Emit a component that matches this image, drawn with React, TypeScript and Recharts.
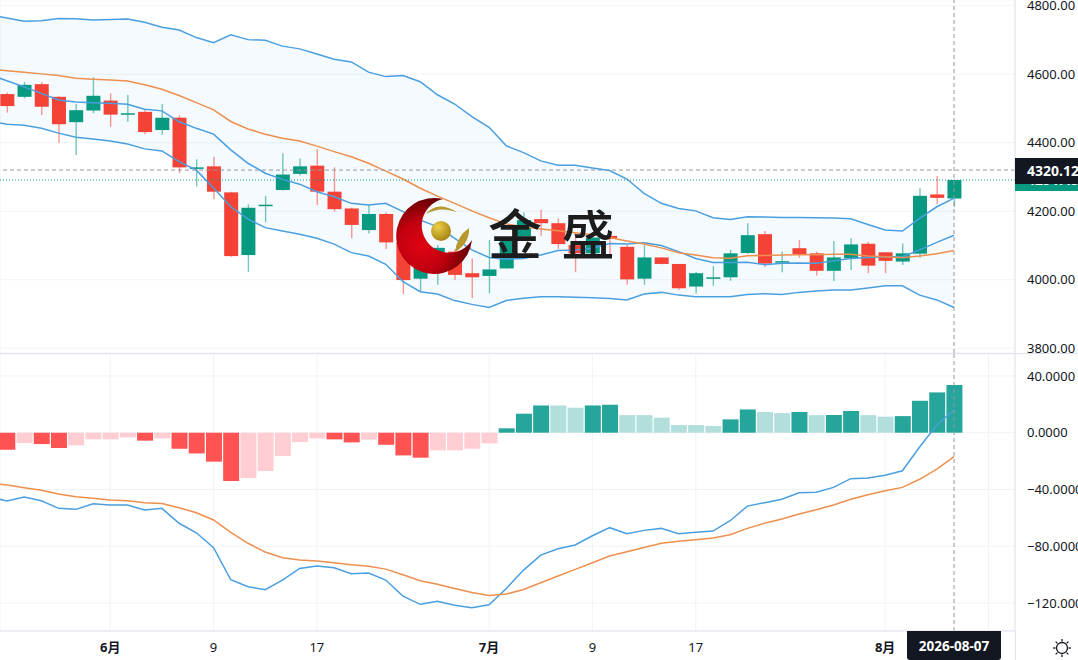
import React from 'react';
import {
  Area,
  Bar,
  CartesianGrid,
  Cell,
  ComposedChart,
  Line,
  ReferenceLine,
  XAxis,
  YAxis,
} from 'recharts';

// daily candles, index 0 sits just off the left edge
const opens = [4565, 4542, 4534, 4571, 4534, 4460, 4494, 4523, 4484, 4490, 4437, 4473, 4326, 4331, 4255, 4072, 4217, 4262, 4309, 4333, 4257, 4208, 4145, 4192, 4110, 4003, 4052, 4082, 4019, 4011, 4033, 4126, 4177, 4165, 4101, 4077, 4128, 4096, 4003, 4065, 4046, 3980, 4005, 4007, 4078, 4133, 4052, 4092, 4077, 4026, 4062, 4105, 4080, 4053, 4076, 4249, 4237];
const highs = [4580, 4546, 4577, 4577, 4536, 4513, 4591, 4544, 4539, 4496, 4513, 4480, 4352, 4359, 4257, 4220, 4245, 4369, 4354, 4381, 4328, 4211, 4218, 4196, 4122, 4058, 4101, 4090, 4062, 4116, 4125, 4196, 4204, 4179, 4136, 4130, 4136, 4101, 4101, 4066, 4046, 4023, 4040, 4087, 4165, 4142, 4082, 4116, 4082, 4113, 4121, 4111, 4081, 4106, 4267, 4303, 4292];
const lows = [4530, 4488, 4530, 4481, 4400, 4364, 4486, 4447, 4461, 4425, 4423, 4311, 4272, 4235, 4067, 4023, 4168, 4260, 4304, 4218, 4199, 4121, 4135, 4090, 3958, 3965, 3985, 3999, 3946, 3960, 4033, 4122, 4128, 4090, 4022, 4072, 4072, 3985, 3985, 4045, 3970, 3960, 3982, 3997, 4075, 4038, 4022, 4064, 4012, 3996, 4028, 4019, 4019, 4043, 4064, 4220, 4213];
const closes = [4545, 4507, 4569, 4505, 4454, 4495, 4537, 4482, 4486, 4431, 4473, 4328, 4328, 4257, 4069, 4210, 4219, 4307, 4331, 4257, 4206, 4160, 4192, 4109, 3999, 4034, 4093, 4014, 4007, 4030, 4121, 4174, 4165, 4104, 4077, 4123, 4119, 4001, 4065, 4046, 3975, 4019, 4007, 4077, 4130, 4047, 4054, 4075, 4026, 4065, 4103, 4041, 4055, 4077, 4245, 4239, 4291];

// bollinger bands and the slower average
const upperBand = [4773, 4764, 4755, 4756, 4763, 4762, 4758, 4760, 4761, 4752, 4737, 4729, 4707, 4692, 4715, 4701, 4699, 4682, 4674, 4659, 4644, 4636, 4606, 4593, 4596, 4578, 4540, 4513, 4476, 4445, 4391, 4371, 4347, 4334, 4334, 4326, 4319, 4294, 4252, 4223, 4208, 4201, 4181, 4176, 4184, 4183, 4182, 4182, 4181, 4180, 4178, 4161, 4145, 4142, 4179, 4213, 4238];
const middleBand = [4598, 4581, 4563, 4544, 4525, 4519, 4517, 4515, 4512, 4498, 4493, 4461, 4442, 4425, 4379, 4340, 4311, 4293, 4279, 4257, 4242, 4223, 4218, 4223, 4199, 4174, 4155, 4121, 4087, 4065, 4060, 4062, 4072, 4085, 4087, 4092, 4106, 4104, 4108, 4100, 4082, 4062, 4050, 4050, 4051, 4044, 4048, 4049, 4048, 4055, 4062, 4065, 4067, 4067, 4087, 4109, 4130];
const lowerBand = [4463, 4454, 4451, 4442, 4428, 4416, 4411, 4405, 4396, 4382, 4376, 4345, 4320, 4268, 4213, 4177, 4152, 4142, 4133, 4121, 4104, 4079, 4069, 4045, 3994, 3965, 3958, 3939, 3928, 3919, 3939, 3946, 3950, 3950, 3949, 3947, 3945, 3941, 3958, 3963, 3955, 3950, 3950, 3950, 3957, 3959, 3957, 3963, 3967, 3970, 3970, 3976, 3982, 3982, 3955, 3941, 3919];
const slowAverage = [4615, 4610, 4606, 4601, 4596, 4588, 4585, 4583, 4580, 4569, 4556, 4538, 4517, 4496, 4462, 4440, 4425, 4413, 4405, 4390, 4374, 4359, 4340, 4317, 4294, 4267, 4244, 4223, 4201, 4181, 4163, 4155, 4148, 4143, 4137, 4131, 4123, 4113, 4104, 4093, 4079, 4072, 4064, 4063, 4070, 4071, 4072, 4073, 4073, 4074, 4074, 4069, 4067, 4064, 4069, 4076, 4085];

// macd pane
const macdHist = [-10, -12, -7.3, -8, -10.8, -8.9, -4.7, -4.7, -3.3, -5.6, -4, -11.3, -14.6, -20.4, -34, -31.9, -27, -16.4, -6.6, -4, -4.7, -6.8, -4.9, -8.5, -16, -17.6, -12.4, -12.4, -11.3, -7.5, 3.1, 13.4, 19.2, 19.2, 17.6, 19.2, 19.7, 12.4, 12.4, 10.6, 5.4, 5.4, 4.7, 9.4, 16.4, 14.6, 13.8, 14.6, 12.4, 12.5, 15.3, 12.4, 11.3, 11.7, 22.5, 28.4, 33.6];
const macdDif = [-45.3, -48.1, -45.3, -47.9, -53.3, -54, -50, -50.9, -50.9, -54.5, -53.3, -63.8, -70.5, -81, -103.6, -108.5, -110.6, -103.8, -95.6, -93.9, -95.1, -99.4, -98.9, -103.8, -115.1, -120.9, -118.8, -121.6, -123.3, -121.2, -109.7, -96.8, -86.2, -81.7, -79.1, -72.6, -66.9, -71.2, -68.8, -67.4, -71.2, -70.2, -69.3, -62, -51.7, -49.3, -46.9, -42.3, -42, -38.5, -32.4, -31.9, -30, -26.8, -10.1, 5.4, 16];
const macdDea = [-35.4, -36.9, -38.8, -40.6, -43.2, -45.1, -46.2, -47.4, -47.9, -49.3, -49.8, -52.9, -56.4, -61.5, -70.2, -77.9, -84.1, -88.1, -89.7, -90.4, -91.6, -93, -94.1, -96.1, -100.1, -104.3, -106.8, -109.7, -112.5, -114.6, -113.7, -110.4, -105.7, -101, -96.3, -91.6, -86.9, -83.9, -80.8, -77.9, -76.5, -75.4, -74.2, -71.9, -67.4, -63.8, -60.8, -57.3, -54.3, -50.9, -46.9, -43.7, -40.9, -38.5, -32.8, -25.6, -16.9];

// the tick at 58 only draws a grid line, the date tag sits over its place
const timeTicks = [7, 13, 19, 29, 35, 41, 52, 58];
const timeLabels = ['6月', '9', '17', '7月', '9', '17', '8月', ''];
const priceTicks = [3800, 4000, 4200, 4400, 4600, 4800];
const macdTicks = [-120, -80, -40, 0, 40];

const crossPrice = 4320.12;
const lastPrice = 4291;
const lastIndex = 56;

const rows = opens.map((open, i) => ({
  i,
  open,
  high: highs[i],
  low: lows[i],
  close: closes[i],
  upper: upperBand[i],
  middle: middleBand[i],
  lower: lowerBand[i],
  slow: slowAverage[i],
  hist: macdHist[i],
  dif: macdDif[i],
  dea: macdDea[i],
}));

const FONT = '"Noto Sans", "Noto Sans CJK SC", sans-serif';
const UP = '#089981';
const DOWN = '#f44336';
const BLUE = '#4a9fe0';
const ORANGE = '#ee8f4d';
const GRID = '#f0f3f8';
const BORDER = '#e0e3eb';
const INK = '#131722';
const CROSS = '#9598a1';

const W = 1078;
const PLOT_W = 1015;
// x of index i is -10.3 + 17.22 * i
const xDomain: [number, number] = [0.598, 59.54];

const Candle = (props: any) => {
  const { x, y, width, height, payload } = props;
  const top = Math.min(y, y + height);
  const unit = Math.abs(height) / (payload.high - payload.low);
  const color = payload.close >= payload.open ? UP : DOWN;
  const bodyTop = top + (payload.high - Math.max(payload.open, payload.close)) * unit;
  const bodyH = Math.max(Math.abs(payload.open - payload.close) * unit, 1.5);
  const mid = x + width / 2;
  return (
    <g>
      <line x1={mid} x2={mid} y1={top} y2={top + Math.abs(height)} stroke={color} strokeOpacity={0.55} strokeWidth={1.4} />
      <rect x={x} y={bodyTop} width={width} height={bodyH} fill={color} />
    </g>
  );
};

const TimeTick = (props: any) => {
  const { x, y, payload } = props;
  const label = timeLabels[timeTicks.indexOf(payload.value)];
  if (!label) return null;
  return (
    <text x={x} y={y} dy={13} textAnchor="middle" fontSize={13} fontFamily={FONT} fill={INK} fontWeight={label.includes('月') ? 700 : 400}>
      {label}
    </text>
  );
};

const histColor = (value: number, i: number) => {
  const prev = i > 0 ? macdHist[i - 1] : value;
  if (value >= 0) return value > prev ? '#26a69a' : '#b2dfdb';
  return value < prev ? '#ff5252' : '#ffcdd2';
};

const axisTick = { fontSize: 13, fontFamily: FONT, fill: INK };

const PricePane = () => (
  <ComposedChart width={W} height={353} data={rows} margin={{ top: 0, right: 0, bottom: 0, left: 0 }}>
    <CartesianGrid stroke={GRID} />
    <XAxis dataKey="i" type="number" domain={xDomain} ticks={timeTicks} allowDataOverflow height={0} tick={false} axisLine={false} tickLine={false} interval={0} />
    <YAxis orientation="right" width={63} domain={[3786, 4816.7]} ticks={priceTicks} allowDataOverflow interval={0} tickFormatter={(v: number) => v.toFixed(2)} tick={axisTick} tickLine={false} tickMargin={6} axisLine={{ stroke: BORDER }} />
    <Area dataKey={(d: any) => [d.lower, d.upper]} type="linear" stroke="none" fill="#2196f3" fillOpacity={0.05} dot={false} activeDot={false} isAnimationActive={false} />
    <Line dataKey="upper" type="linear" stroke={BLUE} strokeWidth={1.5} dot={false} activeDot={false} isAnimationActive={false} />
    <Line dataKey="lower" type="linear" stroke={BLUE} strokeWidth={1.5} dot={false} activeDot={false} isAnimationActive={false} />
    <Line dataKey="middle" type="linear" stroke={BLUE} strokeWidth={1.5} dot={false} activeDot={false} isAnimationActive={false} />
    <Line dataKey="slow" type="linear" stroke={ORANGE} strokeWidth={1.5} dot={false} activeDot={false} isAnimationActive={false} />
    <Bar dataKey={(d: any) => [d.low, d.high]} barSize={14} shape={<Candle />} isAnimationActive={false} />
    <ReferenceLine y={lastPrice} stroke={UP} strokeDasharray="1 2" />
    <ReferenceLine y={crossPrice} stroke={CROSS} strokeDasharray="4 3" />
    <ReferenceLine x={lastIndex} stroke={CROSS} strokeDasharray="4 3" />
  </ComposedChart>
);

const MacdPane = () => (
  <ComposedChart width={W} height={306} data={rows} margin={{ top: 0, right: 0, bottom: 0, left: 0 }}>
    <CartesianGrid stroke={GRID} />
    <XAxis dataKey="i" type="number" domain={xDomain} ticks={timeTicks} allowDataOverflow height={29} tick={<TimeTick />} tickLine={false} axisLine={{ stroke: BORDER }} interval={0} />
    <YAxis orientation="right" width={63} domain={[-139.7, 55.46]} ticks={macdTicks} allowDataOverflow interval={0} tickFormatter={(v: number) => v.toFixed(4).replace('-', '\u2212')} tick={axisTick} tickLine={false} tickMargin={6} axisLine={{ stroke: BORDER }} />
    <Bar dataKey="hist" barSize={16} isAnimationActive={false}>
      {rows.map((row, i) => (
        <Cell key={`hist-${i}`} fill={histColor(row.hist, i)} />
      ))}
    </Bar>
    <Line dataKey="dif" type="linear" stroke={BLUE} strokeWidth={1.5} dot={false} activeDot={false} isAnimationActive={false} />
    <Line dataKey="dea" type="linear" stroke={ORANGE} strokeWidth={1.5} dot={false} activeDot={false} isAnimationActive={false} />
    <ReferenceLine x={lastIndex} stroke={CROSS} strokeDasharray="4 3" />
  </ComposedChart>
);

// watermark drawn over both series
const Logo = () => (
  <svg width={PLOT_W} height={353} style={{ position: 'absolute', left: 0, top: 0, pointerEvents: 'none' }}>
    <defs>
      <radialGradient id="moon" gradientUnits="userSpaceOnUse" cx={422} cy={246} r={46}>
        <stop offset="0%" stopColor="#e00412" />
        <stop offset="55%" stopColor="#c00010" />
        <stop offset="100%" stopColor="#6e0004" />
      </radialGradient>
      <radialGradient id="ball" gradientUnits="userSpaceOnUse" cx={438} cy={227} r={14}>
        <stop offset="0%" stopColor="#ecd04a" />
        <stop offset="100%" stopColor="#a88614" />
      </radialGradient>
    </defs>
    <path d="M443 199 A38 38 0 1 0 472 240 A27.2 27.2 0 1 1 443 199 Z" fill="url(#moon)" />
    <circle cx={441} cy={231} r={10} fill="url(#ball)" />
    <path d="M426 214 Q437 200 457 212 Q440 206 426 214 Z" fill="#b8982c" />
    <path d="M455 252 Q470 243 469 228 Q457 236 455 252 Z" fill="#b8982c" />
    <text x={515} y={255} textAnchor="middle" fontSize={54} fontFamily='"Noto Sans CJK SC"' fontWeight={500} fill="#1c1c1c">金</text>
    <text x={588} y={255} textAnchor="middle" fontSize={53} fontFamily='"Noto Sans CJK SC"' fontWeight={500} fill="#1c1c1c">盛</text>
  </svg>
);

const tagStyle: React.CSSProperties = {
  position: 'absolute',
  left: PLOT_W,
  width: W - PLOT_W,
  color: '#fff',
  fontSize: 14,
  fontWeight: 700,
  fontFamily: FONT,
  paddingLeft: 12,
  boxSizing: 'border-box',
  whiteSpace: 'nowrap',
  overflow: 'hidden',
};

const SunIcon = () => (
  <svg width={20} height={20} viewBox="-10 -10 20 20" style={{ position: 'absolute', left: 1051.5, top: 637.5 }}>
    <circle r={5.5} fill="none" stroke={INK} strokeWidth={1.3} />
    {[0, 45, 90, 135, 180, 225, 270, 315].map((deg) => (
      <line key={deg} x1={0} y1={-6.5} x2={0} y2={-9} stroke={INK} strokeWidth={1.3} transform={`rotate(${deg})`} />
    ))}
  </svg>
);

export default function App() {
  return (
    <div style={{ position: 'absolute', left: 0, top: 0, width: W, height: 660, overflow: 'hidden', background: '#fff' }}>
      <div style={{ position: 'absolute', left: 0, top: 0 }}>
        <PricePane />
      </div>
      <div style={{ position: 'absolute', left: 0, top: 353, width: W, height: 1, background: BORDER }} />
      <div style={{ position: 'absolute', left: 0, top: 354 }}>
        <MacdPane />
      </div>
      <Logo />
      <div style={{ ...tagStyle, top: 168, height: 23, lineHeight: '24px', background: UP }}>4291.45</div>
      <div style={{ ...tagStyle, top: 157.5, height: 26.5, lineHeight: '26px', background: INK }}>4320.12</div>
      <div style={{ position: 'absolute', left: PLOT_W, top: 631, width: 1, height: 29, background: BORDER }} />
      <div style={{ position: 'absolute', left: 907, top: 631, width: 94, height: 29, lineHeight: '31px', background: INK, color: '#fff', fontSize: 13.5, fontWeight: 700, fontFamily: FONT, textAlign: 'center', borderRadius: '0 0 3px 3px' }}>
        2026-08-07
      </div>
      <SunIcon />
    </div>
  );
}
